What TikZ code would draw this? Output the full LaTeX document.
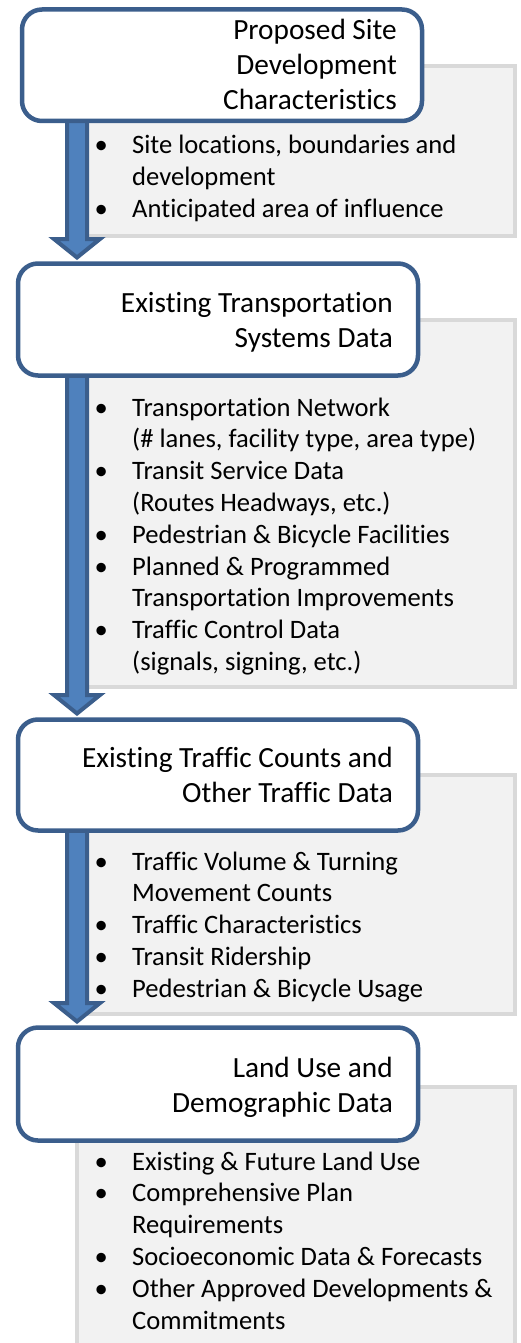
\documentclass[tikz,border=0pt]{standalone}
\usepackage{fontspec}
\setmainfont[Ligatures=NoCommon]{Carlito}
\usetikzlibrary{calc}
\definecolor{boxblue}{HTML}{3B5E8C}
\definecolor{arrowfill}{HTML}{4F81BD}
\definecolor{panelfill}{HTML}{F2F2F2}
\definecolor{panelline}{HTML}{D9D9D9}
\newcommand\bul{\makebox[0pt]{•}\hspace*{31pt}}
\newcommand\ind{\hspace*{31pt}}
\pgfdeclarelayer{panels}
\pgfdeclarelayer{arrows}
\pgfsetlayers{panels,arrows,main}
\newcommand\flowarrow[2]{%
  \draw[bigarrow] let \p1=(#1.south -| ax), \p2=(#2.north -| ax) in
    (\x1-10pt,\y1+2pt) -- (\x1-10pt,\y2+24.5pt) -- (\x1-23pt,\y2+24.5pt) --
    (\x1,\y2+6pt) -- (\x1+23pt,\y2+24.5pt) -- (\x1+10pt,\y2+24.5pt) --
    (\x1+10pt,\y1+2pt) -- cycle;}
\begin{document}
\begin{tikzpicture}[x=1pt,y=-1pt,
  mainbox/.style={draw=boxblue, line width=4.5pt, fill=white, rounded corners=20pt,
    outer sep=0pt, inner sep=0pt, minimum width=400pt},
  panel/.style={draw=panelline, line width=4pt, fill=panelfill, outer sep=0pt, inner sep=0pt},
  bigarrow/.style={draw=boxblue, line width=4pt, fill=arrowfill, line join=miter},
  headtext/.style={anchor=base east, inner sep=0pt, font=\fontsize{29.3}{35}\selectfont},
  listtext/.style={anchor=base west, inner sep=0pt, font=\fontsize{26.6}{31.8}\selectfont}]
\useasboundingbox (0,0) rectangle (520,1343);
\coordinate (ax) at (77,0);
% main boxes
\node[mainbox, minimum height=111.5pt] (b1) at (222,65.25) {};
\node[mainbox, minimum height=112pt] (b2) at (218,319.5) {};
\node[mainbox, minimum height=111pt] (b3) at (218,775) {};
\node[mainbox, minimum height=113pt] (b4) at (218,1084) {};
% panels
\begin{pgfonlayer}{panels}
\fill[white] (0,0) rectangle (520,1343);
\node[panel, minimum width=427.5pt, minimum height=169.5pt] (g1) at (300.75,150.75) {};
\node[panel, minimum width=427.5pt, minimum height=367pt] (g2) at (300.75,503.5) {};
\node[panel, minimum width=427.5pt, minimum height=238.5pt] (g3) at (300.75,894.25) {};
\node[panel, minimum width=437.5pt, minimum height=263pt] (g4) at (295.75,1218.5) {};
\end{pgfonlayer}
% arrows
\begin{pgfonlayer}{arrows}
\flowarrow{b1}{b2}
\flowarrow{b2}{b3}
\flowarrow{b3}{b4}
\end{pgfonlayer}
% headings
\node[headtext] (h1) at (397,40) {\begin{tabular}[t]{@{}r@{}}Proposed Site\\Development\\Characteristics\end{tabular}};
\node[headtext] (h2) at (393,312) {\begin{tabular}[t]{@{}r@{}}Existing Transportation\\Systems Data\end{tabular}};
\node[headtext] (h3) at (393,767) {\begin{tabular}[t]{@{}r@{}}Existing Traffic Counts and\\Other Traffic Data\end{tabular}};
\node[headtext] (h4) at (393,1077) {\begin{tabular}[t]{@{}r@{}}Land Use and\\Demographic Data\end{tabular}};
% lists
\node[listtext] (l1) at (101,154) {\begin{tabular}[t]{@{}l@{}}\bul Site locations, boundaries and\\ \ind development\\ \bul Anticipated area of influence\end{tabular}};
\node[listtext] (l2) at (101,416) {\begin{tabular}[t]{@{}l@{}}\bul Transportation Network\\ \ind (\# lanes, facility type, area type)\\ \bul Transit Service Data\\ \ind (Routes Headways, etc.)\\ \bul Pedestrian \& Bicycle Facilities\\ \bul Planned \& Programmed\\ \ind Transportation Improvements\\ \bul Traffic Control Data\\ \ind (signals, signing, etc.)\end{tabular}};
\node[listtext] (l3) at (101,870) {\begin{tabular}[t]{@{}l@{}}\bul Traffic Volume \& Turning\\ \ind Movement Counts\\ \bul Traffic Characteristics\\ \bul Transit Ridership\\ \bul Pedestrian \& Bicycle Usage\end{tabular}};
\node[listtext] (l4) at (101,1170) {\begin{tabular}[t]{@{}l@{}}\bul Existing \& Future Land Use\\ \bul Comprehensive Plan\\ \ind Requirements\\ \bul Socioeconomic Data \& Forecasts\\ \bul Other Approved Developments \&\\ \ind Commitments\end{tabular}};
\end{tikzpicture}
\end{document}
